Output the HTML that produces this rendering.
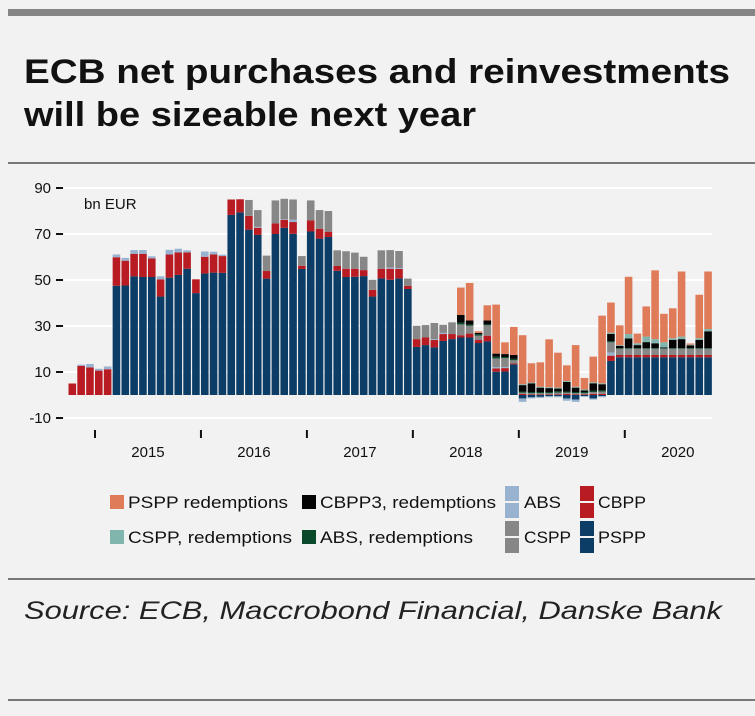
<!DOCTYPE html>
<html><head><meta charset="utf-8"><style>
body{margin:0;background:#fff;}
#wrap{position:relative;width:755px;height:716px;background:#f2f2f2;font-family:"Liberation Sans",sans-serif;overflow:hidden;}
</style></head><body>
<div id="wrap">
<svg id="svg" width="755" height="716" style="position:absolute;left:0;top:0">
<rect x="8" y="9" width="747" height="7" fill="#858585"/>
<text x="24" y="83" font-size="34" font-weight="bold" fill="#111" textLength="706" lengthAdjust="spacingAndGlyphs">ECB net purchases and reinvestments</text>
<text x="24" y="126" font-size="34" font-weight="bold" fill="#111" textLength="452" lengthAdjust="spacingAndGlyphs">will be sizeable next year</text>
<rect x="8" y="162" width="747" height="2" fill="#777"/>
<rect x="8" y="578" width="747" height="2" fill="#777"/>
<text x="24" y="619" font-size="25" font-style="italic" fill="#222" textLength="698" lengthAdjust="spacingAndGlyphs">Source: ECB, Maccrobond Financial, Danske Bank</text>
<rect x="8" y="699" width="747" height="2" fill="#777"/>
<g id="grid"></g><g id="bars"></g><g id="axes"></g><g id="legend"></g>
<text x="84" y="209" font-size="15" fill="#111">bn EUR</text>
</svg>
</div>
<script>
const yTicks=[90,70,50,30,10,-10];
const years=["2015","2016","2017","2018","2019","2020"];
const pspp=[0,0,0,0,0,47.5,47.6,51.6,51.3,51.3,42.8,51,52.2,54.9,44.3,52.8,53.2,53.1,78.3,79.4,71.9,69.6,50.6,70,72.7,70.1,54.8,71.1,68,68.7,54,51.3,51.4,51.7,42.8,50.7,50.1,50.7,46.1,20.9,21.7,20.7,23.5,24.3,25,25,22.6,23.3,10.1,10.2,13.3,-1.5,-1,-0.8,-0.5,-0.5,-1.5,-2,-0.5,-1.5,-0.5,14.8,16.4,16.4,16.4,16.4,16.4,16.4,16.4,16.4,16.4,16.4,16.4];
const cbpp=[5,12.7,12,10.6,11.2,12.4,10.8,9.8,10.1,8.1,7.5,10.1,9.8,7.1,6,7.3,7.9,7.3,6.7,5.7,6,3.1,3.3,4.6,3.5,5.1,1.4,4.8,4.3,2.3,2.1,3.6,3.5,2.6,2.9,4.2,4.8,4.1,1.4,3.4,3.3,3.2,3,2.2,1,1.7,1.3,2.5,1.5,1.5,0.4,0.5,0.3,0.3,0.3,0.3,0.5,0.3,0.3,0.5,0.5,2.3,1,1,1,1,1,1,1,1,1,1,1];
const abs=[0,0.5,1.5,0.8,1.2,1.2,1.2,1.6,1.6,0.9,1.3,2,1.6,0.9,0,2.3,1.2,0.6,0,0,0,0.4,0,0,0.3,1,0,0,0,0,0,0,0,0,0,0,0.5,0.4,0,0,0,0.4,0.5,0,0,0,0,0,0.5,0.5,0,-1.5,-0.5,-0.5,-0.5,-0.5,-1,-1,-0.3,-0.5,-0.5,1.4,0,0,0,0,0,0,0,0,0,0,0];
const cspp=[0,0,0,0,0,0,0,0,0,0,0,0,0,0,0,0,0,0,0,0,6.9,7.3,6.7,10,8.8,8.8,4.2,8.7,8.1,9,6.8,7.6,7,5.8,4.4,8,7.6,7.4,3.1,5.8,5.4,7,3.5,5.1,4.7,3.4,1.9,4.5,3.8,3.8,1.4,0.5,0.5,0.5,0.5,0.8,0.5,0.5,0.5,0.8,1,4.4,2.7,2.7,2.7,2.7,2.7,2.7,2.7,2.7,2.7,2.7,2.7];
const absRed=[0,0,0,0,0,0,0,0,0,0,0,0,0,0,0,0,0,0,0,0,0,0,0,0,0,0,0,0,0,0,0,0,0,0,0,0,0,0,0,0,0,0,0,0,0.8,0.5,0.7,0.4,0.7,0.5,0.6,0.5,0.5,0.5,0.5,0.5,0.5,0.5,0.5,0.5,0.5,0.5,0.3,0.3,0.3,0.3,0.3,0.3,0.3,0.3,0.3,0.3,0.3];
const cbpp3Red=[0,0,0,0,0,0,0,0,0,0,0,0,0,0,0,0,0,0,0,0,0,0,0,0,0,0,0,0,0,0,0,0,0,0,0,0,0,0,0,0,0,0,0,0,3.3,1.8,0.5,1.7,1.4,1.3,1.7,2.8,3.7,1.9,1.7,1.2,4.2,1.9,0.7,3.3,2.7,3.2,1,4.2,1.3,2.6,2.1,0.3,3.6,3.9,1.2,3.6,7.3];
const csppRed=[0,0,0,0,0,0,0,0,0,0,0,0,0,0,0,0,0,0,0,0,0,0,0,0,0,0,0,0,0,0,0,0,0,0,0,0,0,0,0,0,0,0,0,0,0,0,0,0,0,0,0,0.4,0.4,0.4,0.4,0.4,0.4,0.4,0.4,0.4,0.4,0.5,0.3,1.9,0.8,2.4,1.8,2.2,0.7,1.1,0.3,0.7,1];
const psppRed=[0,0,0,0,0,0,0,0,0,0,0,0,0,0,0,0,0,0,0,0,0,0,0,0,0,0,0,0,0,0,0,0,0,0,0,0,0,0,0,0,0,0,0,0,11.9,16.3,0.7,6.6,21.3,5.1,12.2,21.3,8.4,10.6,20.8,15.2,6.8,18.1,5,11.2,29.4,13.1,8.6,24.9,4.2,13.1,29.9,12.4,13,28.3,0.5,18.9,25];

const NS="http://www.w3.org/2000/svg";
const y0=395, pxPer=2.3;
function yS(v){return y0-v*pxPer;}
const x0=68.5, slot=8.83, bw=7.6;
function xS(i){return x0+i*slot;}
function mk(tag,attrs,parent){const e=document.createElementNS(NS,tag);for(const k in attrs)e.setAttribute(k,attrs[k]);parent.appendChild(e);return e;}
const grid=document.getElementById('grid'),axes=document.getElementById('axes'),bars=document.getElementById('bars'),leg=document.getElementById('legend');
yTicks.forEach(t=>{
 const l=mk('line',{x1:64,x2:712,y1:yS(t),y2:yS(t),stroke:'#fff','stroke-width':2},grid);
 
 
 const tk=mk('line',{x1:56,x2:63,y1:yS(t),y2:yS(t),stroke:'#111','stroke-width':2},axes);
 
 
 const tx=mk('text',{x:51,y:yS(t)+5,'font-size':15,'text-anchor':'end',fill:'#111'},axes);
 tx.textContent=String(t);
 
 
});
years.forEach((yr,k)=>{
 const xs=xS(3+12*k);
 const tk=mk('line',{x1:xs,x2:xs,y1:430,y2:438,stroke:'#111','stroke-width':2},axes);
 
 
 const tx=mk('text',{x:xs+slot*6,y:457,'font-size':15,'text-anchor':'middle',fill:'#111'},axes);
 tx.textContent=yr;
 
 
});
const series=[["pspp",pspp,"#0b3d66"],["cbpp",cbpp,"#b81c22"],["abs",abs,"#98b3cf"],["cspp",cspp,"#878787"],["abs-red",absRed,"#0a4a2a"],["cbpp3-red",cbpp3Red,"#050505"],["cspp-red",csppRed,"#7fb5ad"],["pspp-red",psppRed,"#e07b5a"]];
for(let i=0;i<pspp.length;i++){
 let pos=0,neg=0;
 series.forEach(s=>{
  const v=s[1][i]; if(!v) return;
  let a,b;
  if(v>0){a=pos;b=pos+v;pos=b;}else{a=neg+v;b=neg;neg=a;}
  const r=mk('rect',{x:xS(i),y:yS(b),width:bw,height:Math.max(0.3,(b-a)*pxPer),fill:s[2]},bars);
  
  
 });
}
const legItems=[["PSPP redemptions","#e07b5a",110,128,502,false,160],["CBPP3, redemptions","#050505",302,320,502,false,176],["ABS","#98b3cf",505,524,502,true,37],["CBPP","#b81c22",580,598,502,true,48],["CSPP, redemptions","#7fb5ad",110,128,537,false,164],["ABS, redemptions","#0a4a2a",302,320,537,false,153],["CSPP","#878787",505,524,537,true,47],["PSPP","#0b3d66",580,598,537,true,48]];
legItems.forEach(it=>{
 const g=mk('g',{},leg);
 
 
 if(it[5]){
  mk('rect',{x:it[2],y:it[4]-16,width:14,height:15,fill:it[1]},g);
  mk('rect',{x:it[2],y:it[4]+1,width:14,height:15,fill:it[1]},g);
 }else{
  mk('rect',{x:it[2],y:it[4]-7,width:14,height:14,fill:it[1]},g);
 }
 const t=mk('text',{x:it[3],y:it[4]+6,'font-size':17,fill:'#111',textLength:it[6],lengthAdjust:'spacingAndGlyphs'},g);
 t.textContent=it[0];
});
</script>
</body></html>
